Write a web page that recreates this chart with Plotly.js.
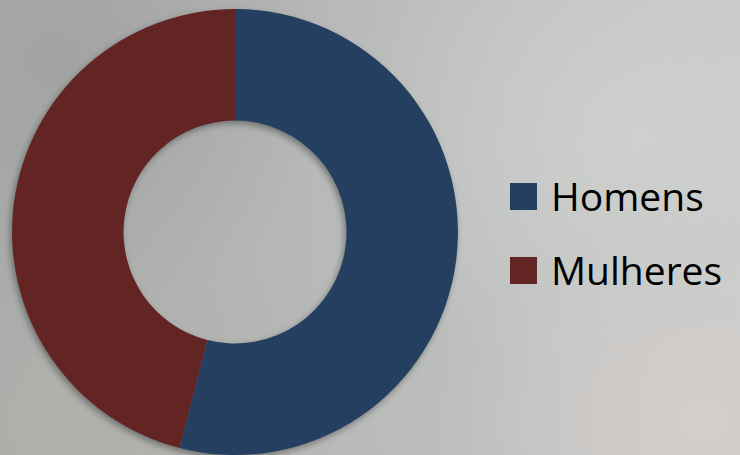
<!DOCTYPE html>
<html>
<head>
<meta charset="utf-8">
<script src="https://cdn.plot.ly/plotly-3.0.1.min.js"></script>
<style>
  html, body { margin: 0; padding: 0; }
  #bg {
    width: 740px; height: 455px; position: relative; overflow: hidden;
    background:
      radial-gradient(ellipse 260px 200px at 700px 420px, rgba(214,206,204,0.9), rgba(214,206,204,0) 100%),
      radial-gradient(ellipse 300px 260px at 640px 140px, rgba(208,210,208,0.85), rgba(208,210,208,0) 100%),
      radial-gradient(ellipse 280px 260px at 60px 60px, rgba(160,163,161,0.9), rgba(160,163,161,0) 100%),
      radial-gradient(ellipse 260px 200px at 90px 420px, rgba(178,176,172,0.8), rgba(178,176,172,0) 100%),
      linear-gradient(90deg, #a9acaa 0%, #b7bab8 45%, #c6c9c7 100%);
  }
  #chart { width: 740px; height: 455px; }
</style>
</head>
<body>
<div id="bg"><div id="chart"></div></div>
<script>
const labels = ["Homens", "Mulheres"];
const values = [54, 46];
const colors = ["#243f60", "#632523"];

const W = 740, H = 455;
const px = x => x / W;
const py = y => 1 - y / H;

const shapes = labels.map((l, i) => ({
  type: "rect", xref: "paper", yref: "paper",
  x0: px(510), x1: px(537),
  y0: py(210 + i * 74), y1: py(183 + i * 74),
  fillcolor: colors[i], line: { width: 0 }
}));
const annotations = labels.map((l, i) => ({
  text: l, xref: "paper", yref: "paper",
  x: px(549), y: py(195 + i * 74), xanchor: "left", yanchor: "middle",
  showarrow: false,
  font: { family: "Open Sans, sans-serif", size: 39, color: "#000000" }
}));

const data = [{
  type: "pie",
  labels: labels,
  values: values,
  hole: 0.5,
  sort: false,
  direction: "clockwise",
  rotation: 0,
  textinfo: "none",
  hoverinfo: "none",
  marker: { colors: colors, line: { width: 0 } },
  domain: { x: [px(11), px(459)], y: [0, 0.98] },
  showlegend: false
}];

const layout = {
  width: W, height: H,
  margin: { l: 0, r: 0, t: 0, b: 0 },
  paper_bgcolor: "rgba(0,0,0,0)",
  plot_bgcolor: "rgba(0,0,0,0)",
  showlegend: false,
  shapes: shapes,
  annotations: annotations
};

Plotly.newPlot("chart", data, layout, { displayModeBar: false, staticPlot: true }).then(() => {
  const pl = document.querySelector(".pielayer");
  if (pl) pl.style.filter = "drop-shadow(-2px 3px 3px rgba(0,0,0,0.35))";
});
</script>
</body>
</html>
